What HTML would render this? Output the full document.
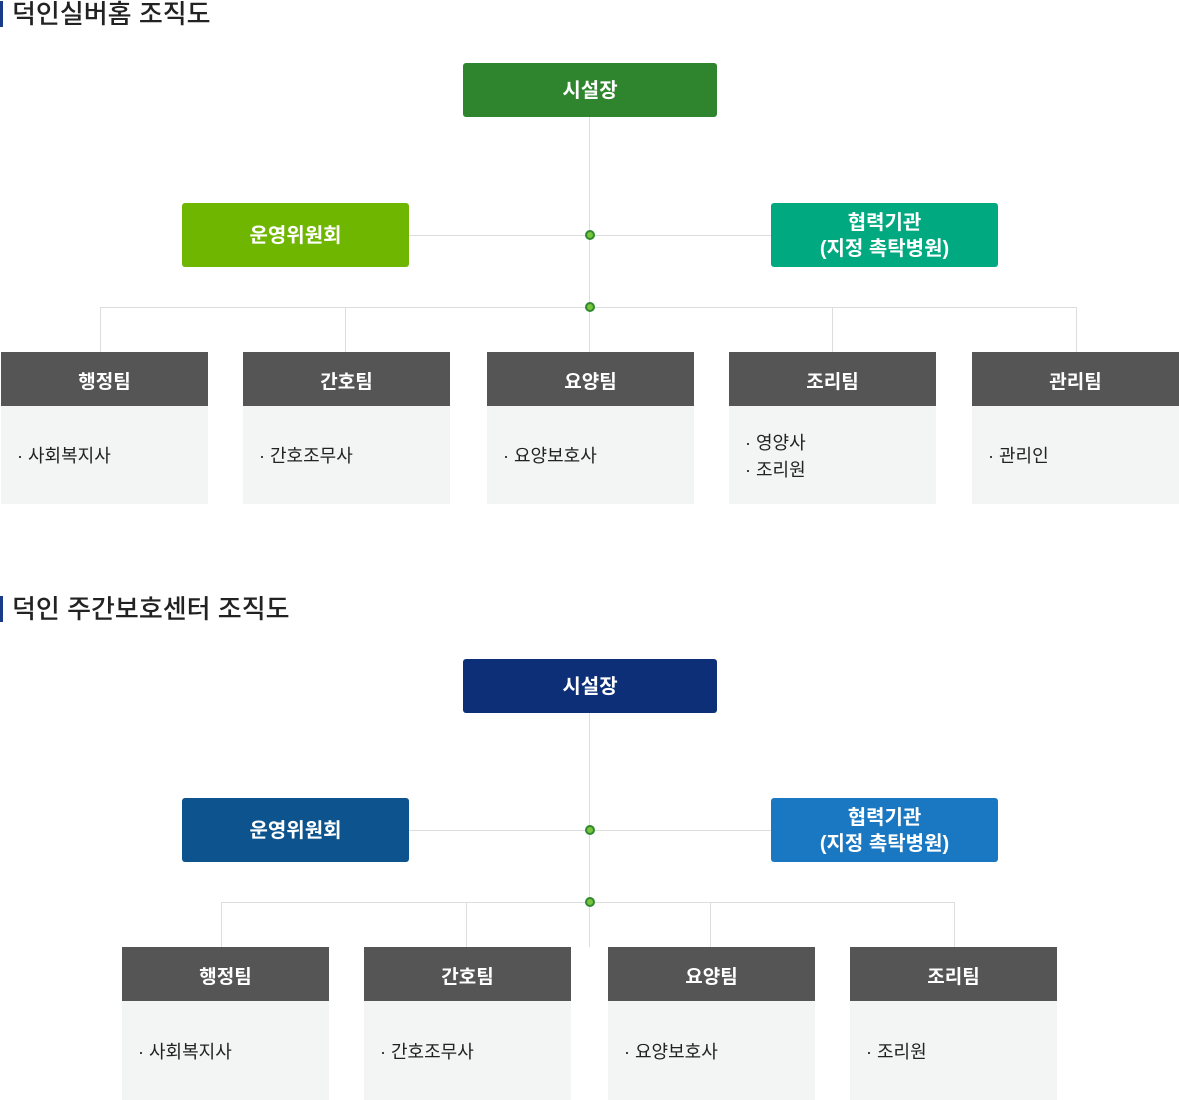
<!DOCTYPE html>
<html><head><meta charset="utf-8"><style>
*{margin:0;padding:0;box-sizing:border-box}
body{width:1179px;height:1100px;position:relative;background:#fff;font-family:"Liberation Sans","Noto Sans CJK KR",sans-serif;overflow:hidden}
.a{position:absolute}
.t{font-size:26px;color:#222;font-weight:500;line-height:26px;padding-left:9px;border-left:3px solid #1a3a8a}
.b{position:absolute;color:#fff;font-size:20px;font-weight:bold;display:flex;align-items:center;justify-content:center;text-align:center;border-radius:3px;line-height:26px;padding-top:2px}
.h{position:absolute;height:54px;background:#555;color:#fff;font-size:19px;font-weight:bold;display:flex;align-items:center;justify-content:center;width:207px;padding-top:2px}
.d{position:absolute;background:#f3f4f4;width:207px;color:#222;font-size:18px;display:flex;flex-direction:column;justify-content:center;padding-left:16px;line-height:27px;padding-top:3px}
.lv{position:absolute;width:1px;background:#ddd}
.lh{position:absolute;height:1px;background:#ddd}
.dot{position:absolute;width:10px;height:10px;border-radius:50%;background:#78c43c;border:2px solid #2f8a2f}
</style></head><body>
<div class="a t" style="left:0;top:1px">덕인실버홈 조직도</div>
<div class="lv" style="left:589px;top:117px;height:235px"></div>
<div class="lh" style="left:408px;top:235px;width:363px"></div>
<div class="lh" style="left:100px;top:307px;width:976px"></div>
<div class="lv" style="left:100px;top:307px;height:45px"></div>
<div class="lv" style="left:345px;top:307px;height:45px"></div>
<div class="lv" style="left:832px;top:307px;height:45px"></div>
<div class="lv" style="left:1076px;top:307px;height:45px"></div>
<div class="dot" style="left:585px;top:230px"></div>
<div class="dot" style="left:585px;top:302px"></div>
<div class="b" style="left:463px;top:63px;width:254px;height:54px;background:#2e852e">시설장</div>
<div class="b" style="left:182px;top:203px;width:227px;height:64px;background:#6fb600">운영위원회</div>
<div class="b" style="left:771px;top:203px;width:227px;height:64px;background:#00a97f">협력기관<br>(지정 촉탁병원)</div>
<div class="h" style="left:1px;top:352px">행정팀</div><div class="d" style="left:1px;top:406px;height:98px">· 사회복지사</div>
<div class="h" style="left:243px;top:352px">간호팀</div><div class="d" style="left:243px;top:406px;height:98px">· 간호조무사</div>
<div class="h" style="left:487px;top:352px">요양팀</div><div class="d" style="left:487px;top:406px;height:98px">· 요양보호사</div>
<div class="h" style="left:729px;top:352px">조리팀</div><div class="d" style="left:729px;top:406px;height:98px">· 영양사<br>· 조리원</div>
<div class="h" style="left:972px;top:352px">관리팀</div><div class="d" style="left:972px;top:406px;height:98px">· 관리인</div>

<div class="a t" style="left:0;top:596px">덕인 주간보호센터 조직도</div>
<div class="lv" style="left:589px;top:712px;height:235px"></div>
<div class="lh" style="left:408px;top:830px;width:363px"></div>
<div class="lh" style="left:221px;top:902px;width:733px"></div>
<div class="lv" style="left:221px;top:902px;height:45px"></div>
<div class="lv" style="left:466px;top:902px;height:45px"></div>
<div class="lv" style="left:710px;top:902px;height:45px"></div>
<div class="lv" style="left:954px;top:902px;height:45px"></div>
<div class="dot" style="left:585px;top:825px"></div>
<div class="dot" style="left:585px;top:897px"></div>
<div class="b" style="left:463px;top:659px;width:254px;height:54px;background:#0d2f78">시설장</div>
<div class="b" style="left:182px;top:798px;width:227px;height:64px;background:#0d548e">운영위원회</div>
<div class="b" style="left:771px;top:798px;width:227px;height:64px;background:#1a78c2">협력기관<br>(지정 촉탁병원)</div>
<div class="h" style="left:122px;top:947px">행정팀</div><div class="d" style="left:122px;top:1001px;height:99px">· 사회복지사</div>
<div class="h" style="left:364px;top:947px">간호팀</div><div class="d" style="left:364px;top:1001px;height:99px">· 간호조무사</div>
<div class="h" style="left:608px;top:947px">요양팀</div><div class="d" style="left:608px;top:1001px;height:99px">· 요양보호사</div>
<div class="h" style="left:850px;top:947px">조리팀</div><div class="d" style="left:850px;top:1001px;height:99px">· 조리원</div>
</body></html>
